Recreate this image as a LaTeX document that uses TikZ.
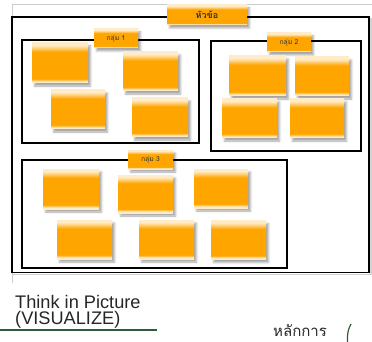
\documentclass[tikz,border=0pt]{standalone}
\usepackage{fontspec}
\setmainfont{Liberation Sans}
\newfontfamily\thaifont[Script=Thai]{Loma}
\usetikzlibrary{shadows.blur}

\definecolor{tab}{HTML}{FFA500}
\colorlet{tablight}{tab!22!white}
\definecolor{darkgreen}{HTML}{2E5B3C}
\pgfdeclareverticalshading{tabshade}{100bp}{color(0bp)=(tablight); color(25bp)=(tablight); color(27bp)=(tablight); color(30bp)=(tab); color(64bp)=(tab); color(72bp)=(tablight); color(75bp)=(tablight); color(100bp)=(tablight)}

\begin{document}
\begin{tikzpicture}[x=1pt,y=-1pt]
		\tikzstyle{Card} = [rectangle, inner sep=0pt, minimum width=55pt, minimum height=39pt, shading=tabshade, blur shadow={shadow xshift=2.5pt, shadow yshift=-3pt, shadow opacity=35, shadow blur radius=2pt}]
		\tikzstyle{Tab} = [Card, minimum width=44pt, minimum height=19pt, font=\thaifont\fontsize{6.8}{7}\selectfont, text=black!80]
		\tikzstyle{Group} = [line width=1.6pt, black]
		\tikzstyle{Caption} = [anchor=base west, inner sep=0pt, text height=12.5pt, text depth=0pt, font=\fontsize{18.2}{16}\selectfont, text=black!85]
		
		\useasboundingbox (0,0) rectangle (372,342);
		
		% page frame and outer box
		\draw [gray!40, line width=0.8pt] (12,283) -- (12,4) -- (372,4);
		\draw [gray!35, line width=1.2pt] (13,274.5) -- (371,274.5) -- (371,18);
		\draw [line width=1.3pt, black] (12,17) rectangle (369,272.5);
		
		% groups
		\draw [Group] (22,40) rectangle (199,143);
		\draw [Group] (211,41) rectangle (361,151);
		\draw [Group] (22,160) rectangle (287,268);
		
		\node (title) [Tab, minimum width=80pt, minimum height=20pt, font=\thaifont\bfseries\fontsize{9}{10}\selectfont] at (207,15) {หัวข้อ};
		\node (g1) [Tab] at (116,38.5) {กลุ่ม 1};
		\node (g2) [Tab] at (289,42.5) {กลุ่ม 2};
		\node (g3) [Tab, minimum width=45pt] at (150.5,159.5) {กลุ่ม 3};
		
		% group 1
		\node (a1) [Card, minimum width=56pt, minimum height=40pt] at (60,63) {};
		\node (a2) [Card] at (150.5,71.5) {};
		\node (a3) [Card, minimum width=54pt] at (78,109.5) {};
		\node (a4) [Card, minimum width=56pt] at (160,117.5) {};
		% group 2
		\node (b1) [Card, minimum width=57pt, minimum height=40pt] at (257.5,76) {};
		\node (b2) [Card, minimum width=54pt] at (322,76.5) {};
		\node (b3) [Card] at (249.5,118.5) {};
		\node (b4) [Card, minimum width=54pt] at (317,118.5) {};
		% group 3
		\node (c1) [Card, minimum width=56pt, minimum height=40pt] at (71,189) {};
		\node (c2) [Card, minimum height=38pt] at (145.5,194) {};
		\node (c3) [Card, minimum width=54pt] at (221,188.5) {};
		\node (c4) [Card] at (84.5,239.5) {};
		\node (c5) [Card] at (166.5,239.5) {};
		\node (c6) [Card] at (238.5,240) {};
		
		% captions below
		\node (think) [Caption] at (15,308) {Think in Picture};
		\node (visual) [Caption] at (15,324.5) {(VISUALIZE)};
		\draw [darkgreen, line width=1.5pt] (0,330) -- (157,330);
		\node (rule) [anchor=base west, inner sep=0pt, font=\thaifont\fontsize{15}{16}\selectfont, text=black!85] at (273,336) {หลักการ};
		\draw [darkgreen, line width=1.2pt] (351,324) .. controls (348,329) and (347,335) .. (347.5,342);
\end{tikzpicture}
\end{document}
